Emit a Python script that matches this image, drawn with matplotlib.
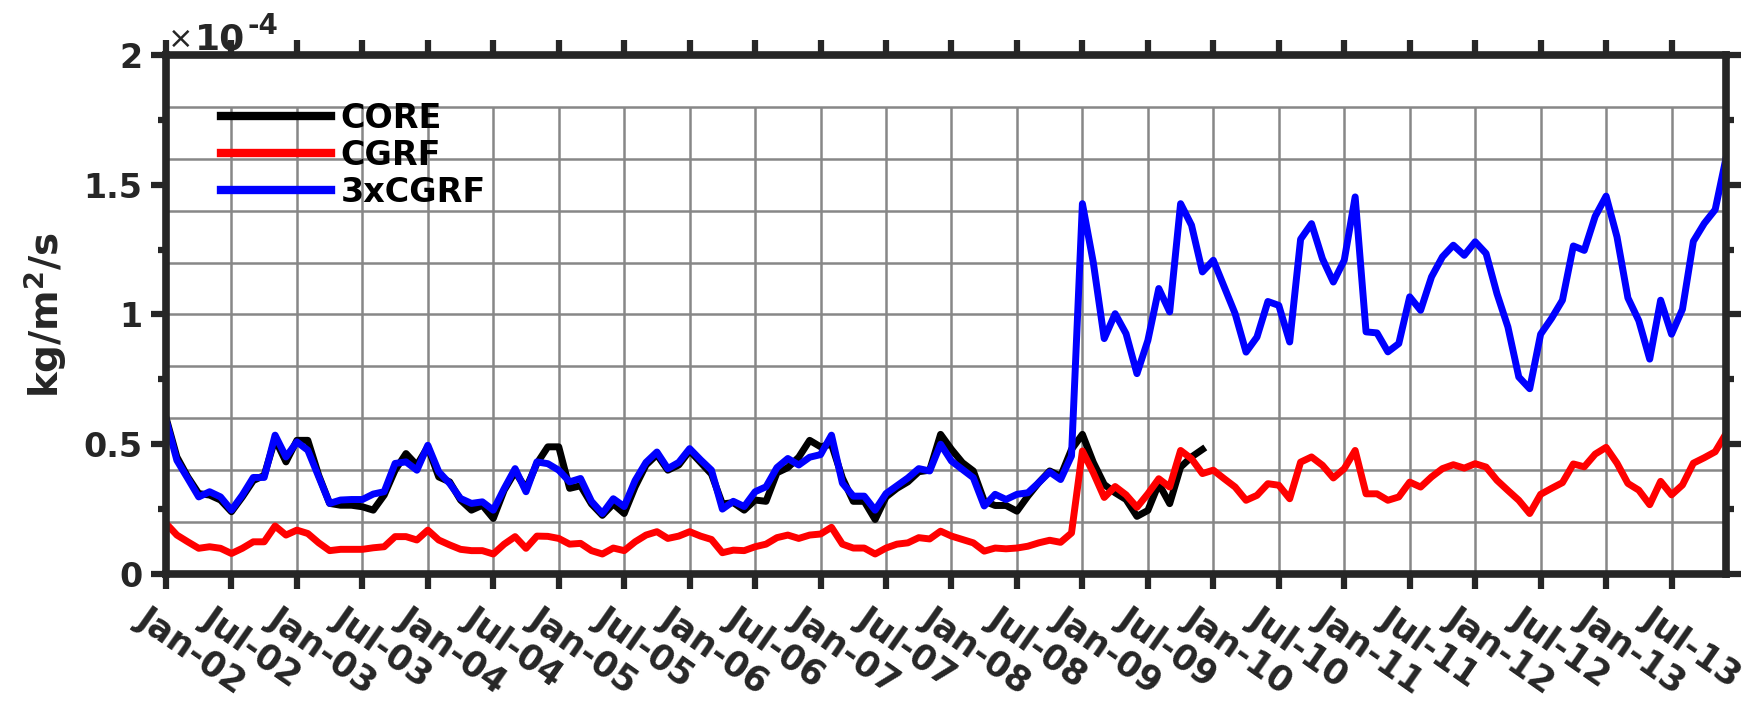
import numpy as np
import matplotlib
matplotlib.use('Agg')
import matplotlib.pyplot as plt
from matplotlib.ticker import FixedLocator, FuncFormatter
import matplotlib.transforms as mtransforms

# monthly values, units of 1e-4 kg/m^2/s, Jan-2002 .. Dec-2013
core = [
    0.603, 0.451, 0.374, 0.310, 0.304, 0.285, 0.240, 0.297, 0.360, 0.380, 0.520, 0.432,
    0.515, 0.515, 0.380, 0.272, 0.265, 0.265, 0.259, 0.246, 0.304, 0.400, 0.464, 0.419,
    0.490, 0.374, 0.355, 0.285, 0.246, 0.265, 0.214, 0.323, 0.394, 0.329, 0.426, 0.490,
    0.490, 0.330, 0.340, 0.270, 0.226, 0.270, 0.233, 0.336, 0.420, 0.460, 0.400, 0.420,
    0.475, 0.430, 0.385, 0.270, 0.275, 0.246, 0.285, 0.280, 0.390, 0.410, 0.450, 0.515,
    0.490, 0.500, 0.370, 0.280, 0.280, 0.210, 0.297, 0.330, 0.355, 0.394, 0.400, 0.538,
    0.480, 0.429, 0.397, 0.281, 0.264, 0.264, 0.242, 0.300, 0.352, 0.397, 0.377, 0.480,
    0.538, 0.430, 0.345, 0.313, 0.287, 0.222, 0.245, 0.348, 0.271, 0.412, 0.451, 0.480,
]
cgrf = [
    0.195, 0.150, 0.124, 0.099, 0.105, 0.099, 0.079, 0.099, 0.124, 0.124, 0.185, 0.150,
    0.169, 0.156, 0.120, 0.090, 0.095, 0.095, 0.095, 0.101, 0.105, 0.144, 0.144, 0.131,
    0.169, 0.131, 0.112, 0.095, 0.090, 0.090, 0.077, 0.115, 0.144, 0.099, 0.146, 0.145,
    0.137, 0.115, 0.118, 0.090, 0.077, 0.100, 0.090, 0.124, 0.150, 0.163, 0.137, 0.146,
    0.163, 0.146, 0.133, 0.082, 0.092, 0.090, 0.105, 0.115, 0.140, 0.150, 0.137, 0.150,
    0.154, 0.180, 0.115, 0.100, 0.100, 0.077, 0.100, 0.115, 0.120, 0.140, 0.135, 0.165,
    0.146, 0.133, 0.120, 0.088, 0.100, 0.097, 0.100, 0.107, 0.120, 0.130, 0.122, 0.158,
    0.474, 0.390, 0.295, 0.337, 0.305, 0.257, 0.309, 0.367, 0.335, 0.476, 0.444, 0.387,
    0.400, 0.367, 0.335, 0.284, 0.303, 0.348, 0.342, 0.290, 0.431, 0.451, 0.419, 0.370,
    0.406, 0.476, 0.309, 0.309, 0.284, 0.297, 0.354, 0.335, 0.374, 0.406, 0.421, 0.408,
    0.425, 0.412, 0.361, 0.322, 0.284, 0.233, 0.307, 0.330, 0.352, 0.424, 0.413, 0.462,
    0.488, 0.427, 0.349, 0.323, 0.267, 0.357, 0.305, 0.343, 0.427, 0.448, 0.471, 0.541,
]
cgrf3 = [
    0.595, 0.438, 0.368, 0.297, 0.317, 0.297, 0.246, 0.304, 0.372, 0.372, 0.535, 0.451,
    0.509, 0.477, 0.374, 0.272, 0.285, 0.287, 0.287, 0.308, 0.317, 0.426, 0.432, 0.400,
    0.496, 0.394, 0.349, 0.291, 0.272, 0.278, 0.246, 0.329, 0.406, 0.317, 0.432, 0.425,
    0.400, 0.355, 0.368, 0.280, 0.233, 0.290, 0.260, 0.360, 0.430, 0.470, 0.406, 0.430,
    0.483, 0.440, 0.400, 0.250, 0.280, 0.260, 0.317, 0.336, 0.410, 0.445, 0.420, 0.450,
    0.460, 0.535, 0.350, 0.300, 0.300, 0.246, 0.310, 0.340, 0.370, 0.406, 0.397, 0.500,
    0.435, 0.403, 0.371, 0.262, 0.307, 0.287, 0.307, 0.313, 0.352, 0.393, 0.364, 0.455,
    1.427, 1.200, 0.907, 1.003, 0.926, 0.772, 0.900, 1.100, 1.010, 1.427, 1.344, 1.164,
    1.209, 1.106, 1.003, 0.855, 0.913, 1.050, 1.035, 0.894, 1.290, 1.350, 1.215, 1.125,
    1.209, 1.453, 0.933, 0.929, 0.856, 0.888, 1.068, 1.016, 1.145, 1.222, 1.267, 1.228,
    1.280, 1.235, 1.080, 0.952, 0.759, 0.714, 0.924, 0.985, 1.055, 1.264, 1.247, 1.378,
    1.456, 1.299, 1.064, 0.976, 0.828, 1.055, 0.924, 1.020, 1.282, 1.351, 1.404, 1.604,
]
labels = ['CORE', 'CGRF', '3xCGRF']
tick_labels = ['Jan-02', 'Jul-02', 'Jan-03', 'Jul-03', 'Jan-04', 'Jul-04',
               'Jan-05', 'Jul-05', 'Jan-06', 'Jul-06', 'Jan-07', 'Jul-07',
               'Jan-08', 'Jul-08', 'Jan-09', 'Jul-09', 'Jan-10', 'Jul-10',
               'Jan-11', 'Jul-11', 'Jan-12', 'Jul-12', 'Jan-13', 'Jul-13']

dark = '#262626'
gridc = '#878787'
plt.rcParams['font.family'] = 'DejaVu Sans'
plt.rcParams['font.weight'] = 'bold'

fig = plt.figure(figsize=(17.49, 7.11), dpi=100)
ax = fig.add_axes([0.0949, 0.1927, 0.892, 0.730])

n = len(cgrf)
x = np.arange(n)
scale = 1e-4
lw = 5.0
ax.plot(np.arange(len(core)), np.array(core) * scale, color='black', lw=lw, label=labels[0], zorder=3)
ax.plot(x, np.array(cgrf) * scale, color='red', lw=lw, label=labels[1], zorder=3)
ax.plot(x, np.array(cgrf3) * scale, color='blue', lw=lw, label=labels[2], zorder=3)

ax.set_xlim(0, n - 1)
ax.set_ylim(0, 2e-4)

xt = np.arange(len(tick_labels)) * 6
# grid sits on a 0.2 spacing box from 0 to 1.8
ax.vlines(xt, 0, 1.8e-4, colors=gridc, lw=1.8, zorder=1)
ax.hlines(np.arange(1, 10) * 0.2e-4, 0, n - 1, colors=gridc, lw=1.8, zorder=1)

ax.xaxis.set_major_locator(FixedLocator(xt))
ax.set_xticklabels(tick_labels, rotation=-35, ha='left', va='top',
                   rotation_mode='anchor', fontsize=25, fontweight='bold', color=dark)
ax.yaxis.set_major_locator(FixedLocator([0, 0.5e-4, 1e-4, 1.5e-4, 2e-4]))
ax.yaxis.set_minor_locator(FixedLocator([0.25e-4, 0.75e-4, 1.25e-4, 1.75e-4]))
ax.yaxis.set_major_formatter(FuncFormatter(lambda v, p: '%g' % round(v / scale, 2)))
for t in ax.get_yticklabels():
    t.set_fontsize(24)
    t.set_fontweight('bold')
    t.set_color(dark)

ax.tick_params(axis='both', which='major', direction='out', length=11, width=4.5,
               color=dark, top=True, right=True, pad=6)
ax.tick_params(axis='y', which='minor', direction='out', length=6, width=4.5,
               color=dark, right=True)
ax.tick_params(axis='x', pad=6)
for s in ax.spines.values():
    s.set_linewidth(5.5)
    s.set_color(dark)
    s.set_zorder(4)

off = mtransforms.ScaledTranslation(-0.16, -0.04, fig.dpi_scale_trans)
for t in ax.get_xticklabels():
    t.set_transform(t.get_transform() + off)

ax.set_ylabel(r'$\mathbf{kg/m^{2}/s}$', fontsize=28, color=dark, labelpad=10)

# MATLAB style exponent above the y axis
ax.annotate('\u00d7', xy=(0, 1), xycoords='axes fraction', xytext=(1, 5),
            textcoords='offset points', fontsize=22, fontweight='normal',
            color=dark, va='baseline', ha='left')
ax.annotate('10', xy=(0, 1), xycoords='axes fraction', xytext=(21, 4),
            textcoords='offset points', fontsize=26, fontweight='bold',
            color=dark, va='baseline', ha='left')
ax.annotate('-4', xy=(0, 1), xycoords='axes fraction', xytext=(59, 15),
            textcoords='offset points', fontsize=20, fontweight='bold',
            color=dark, va='baseline', ha='left')

leg = ax.legend(loc='upper left', bbox_to_anchor=(0.035, 0.91), frameon=False,
                fontsize=24, handlelength=3.3, handletextpad=0.3, labelspacing=0.12,
                borderpad=0, borderaxespad=0)
for t in leg.get_texts():
    t.set_fontweight('bold')
for h in leg.legend_handles:
    h.set_linewidth(6)

fig.savefig('out.png', dpi=100)
